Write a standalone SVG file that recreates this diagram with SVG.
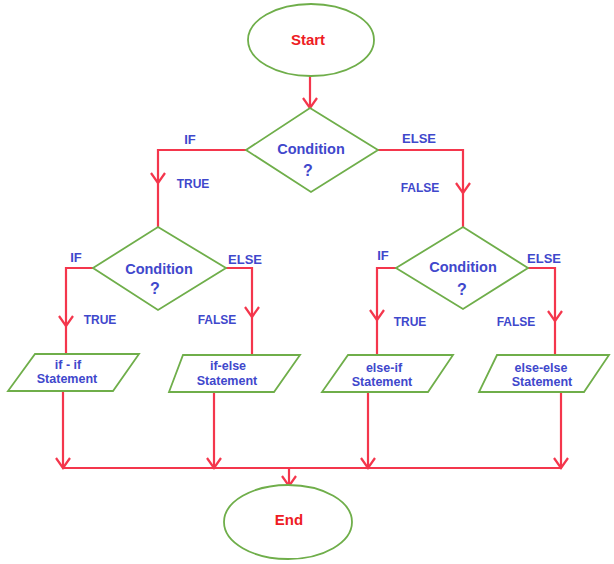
<svg xmlns="http://www.w3.org/2000/svg" xmlns:xlink="http://www.w3.org/1999/xlink" width="614" height="564" viewBox="0 0 614 564">
<style>
.shape{fill:#fff;stroke:#6fae4a;stroke-width:1.8}
.wire{fill:none;stroke:#f4364c;stroke-width:2.2}
.t{font-family:"Liberation Sans",Arial,sans-serif;font-weight:bold;text-anchor:middle}
.blue{fill:#3f48cc}
.red{fill:#ee1c24}
</style>
<defs>
<path id="chev" d="M-7,-10 L0,0 L7,-10" fill="none" stroke="#f4364c" stroke-width="2.2"/>
</defs>
<rect width="614" height="564" fill="#fff"/>
<g id="connectors">
<line class="wire" x1="310" y1="76" x2="310" y2="108"/>
<use xlink:href="#chev" x="310" y="108"/>
<polyline class="wire" points="246,150 158,150 158,227"/>
<use xlink:href="#chev" x="158" y="183"/>
<polyline class="wire" points="378,150 463,150 463,227"/>
<use xlink:href="#chev" x="463" y="193"/>
<polyline class="wire" points="93,268 66,268 66,354"/>
<use xlink:href="#chev" x="66" y="326"/>
<polyline class="wire" points="226,268 252,268 252,355"/>
<use xlink:href="#chev" x="252" y="317"/>
<polyline class="wire" points="396,268 377,268 377,355"/>
<use xlink:href="#chev" x="377" y="320"/>
<polyline class="wire" points="528,268 555,268 555,355"/>
<use xlink:href="#chev" x="555" y="321"/>
<line class="wire" x1="63" y1="391" x2="63" y2="468"/>
<line class="wire" x1="214" y1="392" x2="214" y2="468"/>
<line class="wire" x1="368" y1="392" x2="368" y2="468"/>
<line class="wire" x1="561" y1="392" x2="561" y2="468"/>
<use xlink:href="#chev" x="63" y="468"/>
<use xlink:href="#chev" x="214" y="468"/>
<use xlink:href="#chev" x="368" y="468"/>
<use xlink:href="#chev" x="561" y="468"/>
<line class="wire" x1="62" y1="468" x2="562" y2="468"/>
<line class="wire" x1="289" y1="468" x2="289" y2="486"/>
<use xlink:href="#chev" x="289" y="486"/>
<text class="t blue" x="190" y="144" font-size="13">IF</text>
<text class="t blue" x="193" y="188" font-size="12">TRUE</text>
<text class="t blue" x="419" y="143" font-size="13">ELSE</text>
<text class="t blue" x="420" y="192" font-size="12">FALSE</text>
<text class="t blue" x="76" y="262" font-size="13">IF</text>
<text class="t blue" x="245" y="264" font-size="13">ELSE</text>
<text class="t blue" x="100" y="324" font-size="12">TRUE</text>
<text class="t blue" x="217" y="324" font-size="12">FALSE</text>
<text class="t blue" x="383" y="260" font-size="13">IF</text>
<text class="t blue" x="544" y="263" font-size="13">ELSE</text>
<text class="t blue" x="410" y="326" font-size="12">TRUE</text>
<text class="t blue" x="516" y="326" font-size="12">FALSE</text>
</g>
<g id="start">
<ellipse class="shape" cx="311" cy="40" rx="63" ry="36"/>
<text class="t red" x="308" y="45" font-size="15">Start</text>
</g>
<g id="cond1">
<polygon class="shape" points="310,108 378,150 311,192 246,150"/>
<text class="t blue" x="311" y="154" font-size="14.5">Condition</text>
<text class="t blue" x="308" y="176" font-size="16">?</text>
</g>
<g id="cond2">
<polygon class="shape" points="158,227 226,268 158,310 93,268"/>
<text class="t blue" x="159" y="274" font-size="14.5">Condition</text>
<text class="t blue" x="155" y="294" font-size="16">?</text>
</g>
<g id="cond3">
<polygon class="shape" points="463,227 528,268 463,309 396,268"/>
<text class="t blue" x="463" y="272" font-size="14.5">Condition</text>
<text class="t blue" x="462" y="295" font-size="16">?</text>
</g>
<g id="ifif">
<polygon class="shape" points="35,354 139,354 113,391 8,391"/>
<text class="t blue" x="68" y="369" font-size="12.5">if - if</text>
<text class="t blue" x="67" y="383" font-size="12.5">Statement</text>
</g>
<g id="ifelse">
<polygon class="shape" points="183,355 300,355 274,392 169,392"/>
<text class="t blue" x="228" y="370" font-size="12.5">if-else</text>
<text class="t blue" x="227" y="385" font-size="12.5">Statement</text>
</g>
<g id="elseif">
<polygon class="shape" points="348,355 453,355 428,392 322,392"/>
<text class="t blue" x="384" y="372" font-size="12.5">else-if</text>
<text class="t blue" x="382" y="386" font-size="12.5">Statement</text>
</g>
<g id="elseelse">
<polygon class="shape" points="497,355 609,355 584,392 479,392"/>
<text class="t blue" x="541" y="372" font-size="12.5">else-else</text>
<text class="t blue" x="542" y="386" font-size="12.5">Statement</text>
</g>
<g id="end">
<ellipse class="shape" cx="288" cy="522" rx="64" ry="37"/>
<text class="t red" x="289" y="525" font-size="15">End</text>
</g>
</svg>
